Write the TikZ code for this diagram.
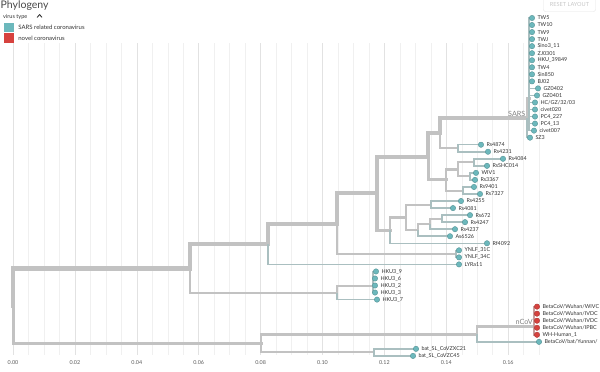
\documentclass[tikz,border=0pt]{standalone}
\usepackage{fontspec}
\setmainfont{Lato}
\usepackage{xcolor}
\usetikzlibrary{positioning,calc}

\definecolor{sarsteal}{RGB}{108,184,188}
\definecolor{ncovred}{RGB}{214,66,62}
\definecolor{branchgray}{RGB}{194,194,194}
\definecolor{gridgray}{RGB}{240,240,240}
\definecolor{gridmajor}{RGB}{226,226,226}
\definecolor{textgray}{RGB}{51,51,51}

% tip number / x / parent / label / colour
\def\tiplist{0/532/nTW/TW5/sarsteal, 1/532/nTW/TW10/sarsteal, 2/532/nTW/TW9/sarsteal,
  3/532/nTW/TWJ/sarsteal, 4/532/nTW/Sino3\_11/sarsteal, 5/532/nTW/ZJ0301/sarsteal,
  6/532/nTW/HKU\_39849/sarsteal, 7/532/nTW/TW4/sarsteal, 8/532/nTW/Sin850/sarsteal,
  9/532/nTW/BJ02/sarsteal, 10/538/nTW/GZ0402/sarsteal, 11/537/nTW/GZ0401/sarsteal,
  12/535/nTW/{HC/GZ/32/03}/sarsteal, 13/535/nTW/civet020/sarsteal, 14/535/nTW/PC4\_227/sarsteal,
  15/535/nTW/PC4\_13/sarsteal, 16/534/nTW/civet007/sarsteal, 17/530/nSARS/SZ3/sarsteal,
  18/481/nRs48/Rs4874/sarsteal, 19/488/nRs48/Rs4231/sarsteal, 20/503/nB/Rs4084/sarsteal,
  21/487/nB/RsSHC014/sarsteal, 22/476/nW/WIV1/sarsteal, 23/475/nW/Rs3367/sarsteal,
  24/474/nR94/Rs9401/sarsteal, 25/480/nR94/Rs7327/sarsteal, 26/461/n430/Rs4255/sarsteal,
  27/453/n430/Rs4081/sarsteal, 28/470/nL3/Rs672/sarsteal, 29/465/nL3/Rs4247/sarsteal,
  30/455/nL2/Rs4237/sarsteal, 31/450/nL/As6526/sarsteal, 32/487/n390/Rf4092/sarsteal,
  33/459/nYN/YNLF\_31C/sarsteal, 34/459/nYN/YNLF\_34C/sarsteal, 35/459/n268/LYRa11/sarsteal,
  36/376/nHK4/HKU3\_9/sarsteal, 37/375/nHK4/HKU3\_6/sarsteal, 38/375/nHK4/HKU3\_2/sarsteal,
  39/375/nHK4/HKU3\_3/sarsteal, 40/377/nHKU/HKU3\_7/sarsteal,
  41/537/nCoV/{BetaCoV/Wuhan/WIVC}/ncovred, 42/537/nCoV/{BetaCoV/Wuhan/IVDC}/ncovred,
  43/537/nCoV/{BetaCoV/Wuhan/IVDC}/ncovred, 44/537/nCoV/{BetaCoV/Wuhan/IPBC}/ncovred,
  45/537/nCoV/WH-Human\_1/ncovred, 46/539/n477/{BetaCoV/bat/Yunnan/}/sarsteal,
  47/416/nBat/bat\_SL\_CoVZXC21/sarsteal, 48/413/nBat/bat\_SL\_CoVZC45/sarsteal}

\begin{document}
\begin{tikzpicture}[x=1pt,y=-1pt,
    br/.style={draw=branchgray,line width=#1,line cap=rect},
    br/.default=2,
    tipbr/.style={draw=#1!28!branchgray,line width=1.5},
    tipdot/.style={circle,fill=#1,draw=#1!80!black,line width=0.4,inner sep=0pt,minimum size=5.4},
    tiplab/.style={inner sep=0pt,font=\fontsize{5.4}{6}\selectfont,text=textgray},
    cladelab/.style={inner sep=0pt,anchor=south east,font=\fontsize{7.2}{8}\selectfont,text=gray},
    ticklab/.style={inner sep=0pt,font=\fontsize{5.4}{6}\selectfont,text=textgray!80},
    legsq/.style={minimum width=10,minimum height=9.5,inner sep=0pt}]
\useasboundingbox (0,0) rectangle (600,372);

% grid
\foreach \k in {0,...,34}
    \draw[gridgray,line width=0.5] ({13+15.475*\k},43) -- ({13+15.475*\k},355);
\foreach \k/\tick in {0/0.00,1/0.02,2/0.04,3/0.06,4/0.08,5/0.10,6/0.12,7/0.14,8/0.16}{
    \draw[gridmajor,line width=0.6] ({13+61.9*\k},43) -- ({13+61.9*\k},355);
    \node[ticklab] (tick\k) at ({13+61.9*\k},362.5) {\tick};
}

% internal nodes of the tree
\coordinate (root) at (13,305.9);
\coordinate (n190) at (190,268.5);
\coordinate (n261) at (261,343.3);
\coordinate (n268) at (268,244.0);
\coordinate (nHKU) at (337,293.0);
\coordinate (nHK4) at (373,286.4);
\coordinate (n337) at (337,223.6);
\coordinate (nYN) at (456,253.8);
\coordinate (n377) at (377,193.4);
\coordinate (n428) at (428,156.5);
\coordinate (n390) at (390,230.3);
\coordinate (n442) at (440,133.0);
\coordinate (n450) at (446,179.9);
\coordinate (nSARS) at (527,117.8);
\coordinate (nTW) at (529,98);
\coordinate (nRs48) at (458,148.2);
\coordinate (nA) at (458,169.4);
\coordinate (nB) at (474,162.3);
\coordinate (nW) at (470,176.4);
\coordinate (nR94) at (463,190.5);
\coordinate (n405) at (406,217.3);
\coordinate (n430) at (431,204.6);
\coordinate (nL) at (418,230.1);
\coordinate (nL2) at (430,223.9);
\coordinate (nL3) at (442,218.6);
\coordinate (n477) at (477,334.2);
\coordinate (nCoV) at (534,326.5);
\coordinate (nBat) at (374,352.4);

% internal branches
\foreach \p/\c/\w in {root/n190/4.2, root/n261/3, n190/n268/4.2, n190/nHKU/2.4,
    n268/n337/4, n337/n377/4, n337/nYN/2, n377/n428/4, n377/n390/3.4,
    n428/n442/4, n428/n450/3, n442/nSARS/4, n442/nRs48/2, nSARS/nTW/3,
    n450/nA/2.6, n450/nR94/2, nA/nB/2, nA/nW/2, n390/n405/2.8,
    n405/n430/2, n405/nL/2.2, nL/nL2/2, nL2/nL3/1.8, nHKU/nHK4/2,
    n261/n477/2.6, n261/nBat/2, n477/nCoV/2.2}
    \draw[br=\w] (\p) |- (\c);

% tips
\foreach \i/\tx/\up/\lab/\col in \tiplist{
    \pgfmathsetmacro\ty{18+7.04*\i}
    \coordinate (t\i) at (\tx,\ty);
    \draw[tipbr=\col] (\up) |- (t\i);
}
\foreach \i/\tx/\up/\lab/\col in \tiplist{
    \node[tipdot=\col] (tip\i) at (t\i) {};
    \node[tiplab,right=2.4pt of tip\i] (lab\i) {\lab};
}

% clade labels
\node[cladelab] (sarslab) at (525.5,116.3) {SARS};
\node[cladelab] (ncovlab) at (533,325) {nCoV};

% header and legend
\node[anchor=base west,inner sep=0pt,font=\fontsize{10.5}{12}\selectfont,text=textgray!90]
    (title) at (0.5,8.6) {Phylogeny};
\node[anchor=west,inner sep=0pt,font=\fontsize{5.6}{6}\selectfont,text=textgray]
    (legtitle) at (3,16.5) {virus type};
\draw[textgray,line width=0.9,line cap=round,line join=round] (37.3,17.2) -- (39.6,14.6) -- (41.9,17.2);
\node[legsq,fill=sarsteal] (legsars) at (9,27.5) {};
\node[legsq,fill=ncovred] (legncov) at (9,38) {};
\node[right=4pt of legsars,inner sep=0pt,font=\fontsize{6}{7}\selectfont,text=textgray]
    (legsarslab) {SARS related coronavirus};
\node[right=4pt of legncov,inner sep=0pt,font=\fontsize{6}{7}\selectfont,text=textgray]
    (legncovlab) {novel coronavirus};
\node[draw=gridmajor,rounded corners=2,minimum width=52,minimum height=14,inner sep=0pt,
    font=\fontsize{5.6}{6}\selectfont,text=black!22] (reset) at (569.5,4.5) {RESET LAYOUT};
\end{tikzpicture}
\end{document}
